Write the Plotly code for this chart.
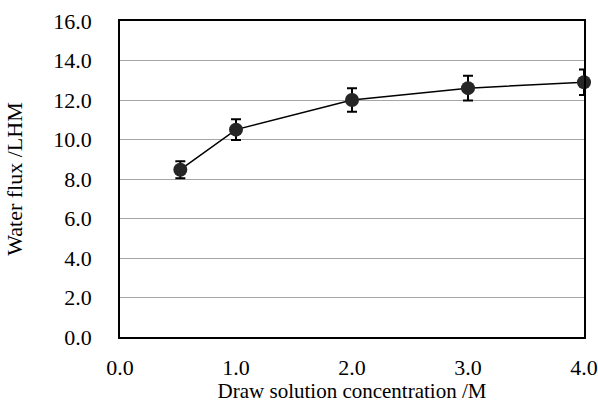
import plotly.graph_objects as go

conc = [0.52, 1.0, 2.0, 3.0, 4.0]
flux = [8.47, 10.5, 12.0, 12.6, 12.9]
err = [0.43, 0.53, 0.6, 0.63, 0.65]

x_ticks = [0, 1, 2, 3, 4]
x_labels = ["0.0", "1.0", "2.0", "3.0", "4.0"]
y_ticks = [0, 2, 4, 6, 8, 10, 12, 14, 16]
y_labels = ["0.0", "2.0", "4.0", "6.0", "8.0", "10.0", "12.0", "14.0", "16.0"]

font = "Liberation Serif"
tf = dict(family=font, size=22, color="#000000")
xf = dict(family=font, size=21, color="#000000")

fig = go.Figure()
fig.add_trace(go.Scatter(
    x=conc, y=flux, mode="lines+markers",
    line=dict(color="#000000", width=1.5),
    marker=dict(color="#262626", size=14, symbol="circle"),
    error_y=dict(type="data", array=err, visible=True, color="#000000", thickness=2, width=5),
    cliponaxis=False, showlegend=False,
))

fig.update_layout(
    width=598, height=403,
    margin=dict(l=120, r=14, t=21, b=66, autoexpand=False),
    paper_bgcolor="white", plot_bgcolor="white",
    font=tf,
    xaxis=dict(
        range=[0, 4], tickvals=x_ticks, ticktext=x_labels, tickfont=tf,
        showgrid=False, zeroline=False, automargin=False,
        showline=True, linecolor="#000000", linewidth=1.5, mirror=True,
        ticks="", ticklabelstandoff=10,
        title=dict(text="Draw solution concentration /M", font=xf, standoff=8),
    ),
    yaxis=dict(
        range=[0, 16], tickvals=y_ticks, ticktext=y_labels, tickfont=tf,
        showgrid=True, gridcolor="#A6A6A6", gridwidth=1, zeroline=False, automargin=False,
        showline=True, linecolor="#000000", linewidth=1.5, mirror=True,
        ticks="", ticklabelstandoff=22,
        title=dict(text="Water flux /LHM", font=tf, standoff=25),
    ),
)

fig.write_html("out.html")
